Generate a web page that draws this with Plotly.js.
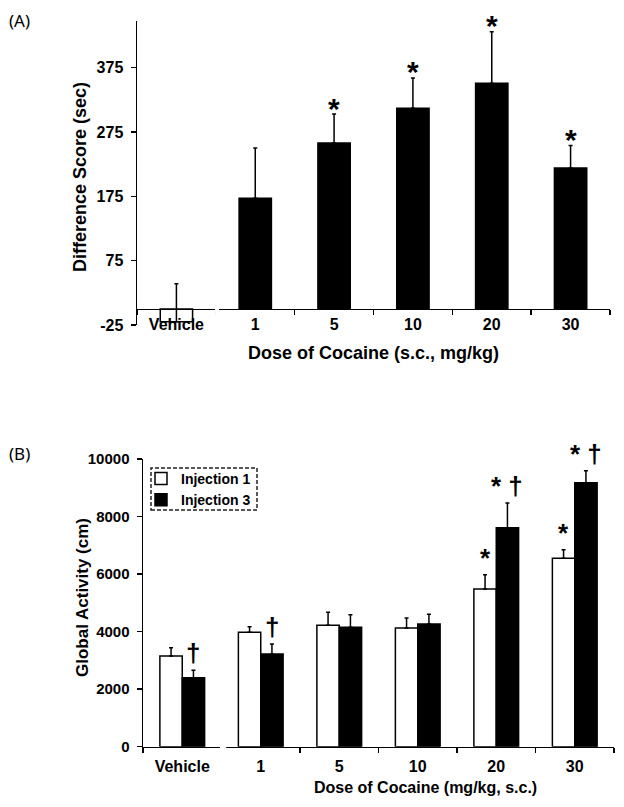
<!DOCTYPE html>
<html>
<head>
<meta charset="utf-8">
<script src="https://cdn.plot.ly/plotly-3.0.1.min.js"></script>
<style>html,body{margin:0;padding:0;background:#fff;}#chart{width:624px;height:807px;}</style>
</head>
<body>
<div id="chart"></div>
<script>
// ---------------- data ----------------
const categories = ['Vehicle', '1', '5', '10', '20', '30'];
// Panel A: difference score (sec)
const scoreMean = [-20, 172, 258, 312, 351, 219];
const scoreSem  = [59, 78, 45, 47, 80, 35];
const scoreSig  = ['', '', '*', '*', '*', '*'];
// Panel B: global activity (cm)
const inj1Mean = [3150, 3975, 4220, 4125, 5480, 6550];
const inj1Sem  = [290, 195, 450, 350, 500, 300];
const inj3Mean = [2400, 3220, 4150, 4265, 7610, 9175];
const inj3Sem  = [255, 350, 440, 335, 860, 420];
const inj1Sig  = ['', '', '', '', '*', '*'];
const inj3Sig  = ['\u2020', '\u2020', '', '', '* \u2020', '* \u2020'];
const yTicksA = [-25, 75, 175, 275, 375];
const yTicksB = [0, 2000, 4000, 6000, 8000, 10000];

// ---------------- layout helpers ----------------
const W = 624, H = 807;
const FONT = 'Arial, "Liberation Sans", sans-serif';
const xDomA = [137 / W, 610 / W], yDomA = [1 - 325 / H, 1 - 21 / H];
const xDomB = [143 / W, 614 / W], yDomB = [1 - 746.7 / H, 1 - 459 / H];
const xRange = [-0.5, categories.length - 0.5];
const yRangeA = [-25, 447.6], yRangeB = [0, 10000];
const BARGAP = 0.43;
const grpOff = (1 - BARGAP) / 4;

function px(dom, rng, v) { return dom[0] + (v - rng[0]) / (rng[1] - rng[0]) * (dom[1] - dom[0]); }
const zeroPosA = px(yDomA, yRangeA, 0);
const zeroPxA = (1 - zeroPosA) * H;
const zeroPxB = (1 - yDomB[0]) * H;

const zeros = a => a.map(() => 0);
const errBar = sem => ({type: 'data', symmetric: false, array: sem, arrayminus: zeros(sem),
  color: '#000', thickness: 1.5, width: 2, visible: true});

const traces = [
  {type: 'bar', x: categories, y: scoreMean, width: 0.41, xaxis: 'x', yaxis: 'y', showlegend: false,
   marker: {color: scoreMean.map(v => v < 0 ? '#fff' : '#000'), line: {color: '#000', width: 1.5}},
   error_y: errBar(scoreSem), hoverinfo: 'skip'},
  {type: 'bar', name: 'Injection 1', x: categories, y: inj1Mean, xaxis: 'x2', yaxis: 'y2',
   marker: {color: '#fff', line: {color: '#000', width: 1.5}}, error_y: errBar(inj1Sem)},
  {type: 'bar', name: 'Injection 3', x: categories, y: inj3Mean, xaxis: 'x2', yaxis: 'y2',
   marker: {color: '#000', line: {color: '#000', width: 1.5}}, error_y: errBar(inj3Sem)}
];

const bold = (size) => ({family: FONT, size: size, color: '#000', weight: 'bold'});

const annotations = [];
scoreSig.forEach((s, i) => { if (s) annotations.push({xref: 'x', yref: 'y', x: i, y: scoreMean[i] + scoreSem[i],
  text: s, showarrow: false, yanchor: 'middle', yshift: 6, font: bold(30)}); });
inj1Sig.forEach((s, i) => { if (s) annotations.push({xref: 'x2', yref: 'y2', x: i - grpOff, y: inj1Mean[i] + inj1Sem[i],
  text: s, showarrow: false, yanchor: 'middle', yshift: 17, font: bold(26)}); });
inj3Sig.forEach((s, i) => { if (s) annotations.push({xref: 'x2', yref: 'y2', x: i + grpOff, y: inj3Mean[i] + inj3Sem[i],
  text: s, showarrow: false, yanchor: 'middle', yshift: 17, font: bold(26)}); });

// panel labels and axis titles
annotations.push(
  {xref: 'paper', yref: 'paper', x: 7 / W, y: 1 - 21 / H, xanchor: 'left', yanchor: 'middle', showarrow: false,
   text: '(A)', font: {family: '"Noto Sans", sans-serif', size: 17, color: '#000'}},
  {xref: 'paper', yref: 'paper', x: 7 / W, y: 1 - 453 / H, xanchor: 'left', yanchor: 'middle', showarrow: false,
   text: '(B)', font: {family: '"Noto Sans", sans-serif', size: 17, color: '#000'}},
  {xref: 'paper', yref: 'paper', x: 80 / W, y: 1 - 177 / H, textangle: -90, showarrow: false,
   xanchor: 'center', yanchor: 'middle', text: 'Difference Score (sec)', font: bold(18)},
  {xref: 'paper', yref: 'paper', x: 373 / W, y: 1 - 353 / H, showarrow: false,
   xanchor: 'center', yanchor: 'middle', text: 'Dose of Cocaine (s.c., mg/kg)', font: bold(18)},
  {xref: 'paper', yref: 'paper', x: 82 / W, y: 1 - 598 / H, textangle: -90, showarrow: false,
   xanchor: 'center', yanchor: 'middle', text: 'Global Activity (cm)', font: bold(17)},
  {xref: 'paper', yref: 'paper', x: 425 / W, y: 1 - 787 / H, showarrow: false,
   xanchor: 'center', yanchor: 'middle', text: 'Dose of Cocaine (mg/kg, s.c.)', font: bold(16)}
);

// break in the x axis lines + dashed legend frame
const shapes = [
  {type: 'rect', xref: 'paper', yref: 'paper', layer: 'above',
   x0: px(xDomA, xRange, 0.49), x1: px(xDomA, xRange, 0.54),
   y0: 1 - (zeroPxA + 9) / H, y1: 1 - (zeroPxA - 3) / H, fillcolor: '#fff', line: {width: 0}},
  {type: 'rect', xref: 'paper', yref: 'paper', layer: 'above',
   x0: px(xDomB, xRange, 0.48), x1: px(xDomB, xRange, 0.56),
   y0: 1 - (zeroPxB + 9) / H, y1: 1 - (zeroPxB - 3) / H, fillcolor: '#fff', line: {width: 0}},
  {type: 'rect', xref: 'paper', yref: 'paper', x0: 151 / W, x1: 257 / W, y0: 1 - 510 / H, y1: 1 - 468 / H,
   line: {color: '#222', width: 1.5, dash: '4px,2px'}, fillcolor: 'rgba(0,0,0,0)'}
];

const xCommon = {type: 'category', range: xRange, showgrid: false, zeroline: false, showline: true,
  linecolor: '#000', linewidth: 1.5, ticks: 'outside', tickson: 'boundaries', ticklen: 5, tickwidth: 1.5,
  tickcolor: '#000', tickfont: bold(16), fixedrange: true};
const yCommon = {showgrid: false, zeroline: false, showline: true, linecolor: '#000', linewidth: 1.5,
  ticks: 'outside', ticklen: 5, tickwidth: 1.5, tickcolor: '#000', tickmode: 'array', fixedrange: true,
  ticklabelstandoff: 4};

const layout = {
  width: W, height: H, margin: {l: 0, r: 0, t: 0, b: 0}, paper_bgcolor: '#fff', plot_bgcolor: 'rgba(0,0,0,0)',
  barmode: 'group', bargap: BARGAP, bargroupgap: 0, font: {family: FONT, color: '#000'},
  xaxis: Object.assign({}, xCommon, {domain: xDomA, anchor: 'free', position: zeroPosA}),
  yaxis: Object.assign({}, yCommon, {domain: yDomA, anchor: 'x', range: yRangeA, tickvals: yTicksA,
    ticktext: yTicksA.map(String), tickfont: bold(16)}),
  xaxis2: Object.assign({}, xCommon, {domain: xDomB, anchor: 'y2', ticklabelstandoff: 5}),
  yaxis2: Object.assign({}, yCommon, {domain: yDomB, anchor: 'x2', range: yRangeB, tickvals: yTicksB,
    ticktext: yTicksB.map(String), tickfont: bold(15)}),
  showlegend: true,
  legend: {x: 141 / W, y: 1 - 463 / H, xanchor: 'left', yanchor: 'top', bgcolor: 'rgba(0,0,0,0)', borderwidth: 0,
    font: bold(14), itemwidth: 30, tracegroupgap: 0, traceorder: 'normal'},
  annotations: annotations, shapes: shapes
};

Plotly.newPlot('chart', traces, layout, {staticPlot: true, displayModeBar: false});
</script>
</body>
</html>
